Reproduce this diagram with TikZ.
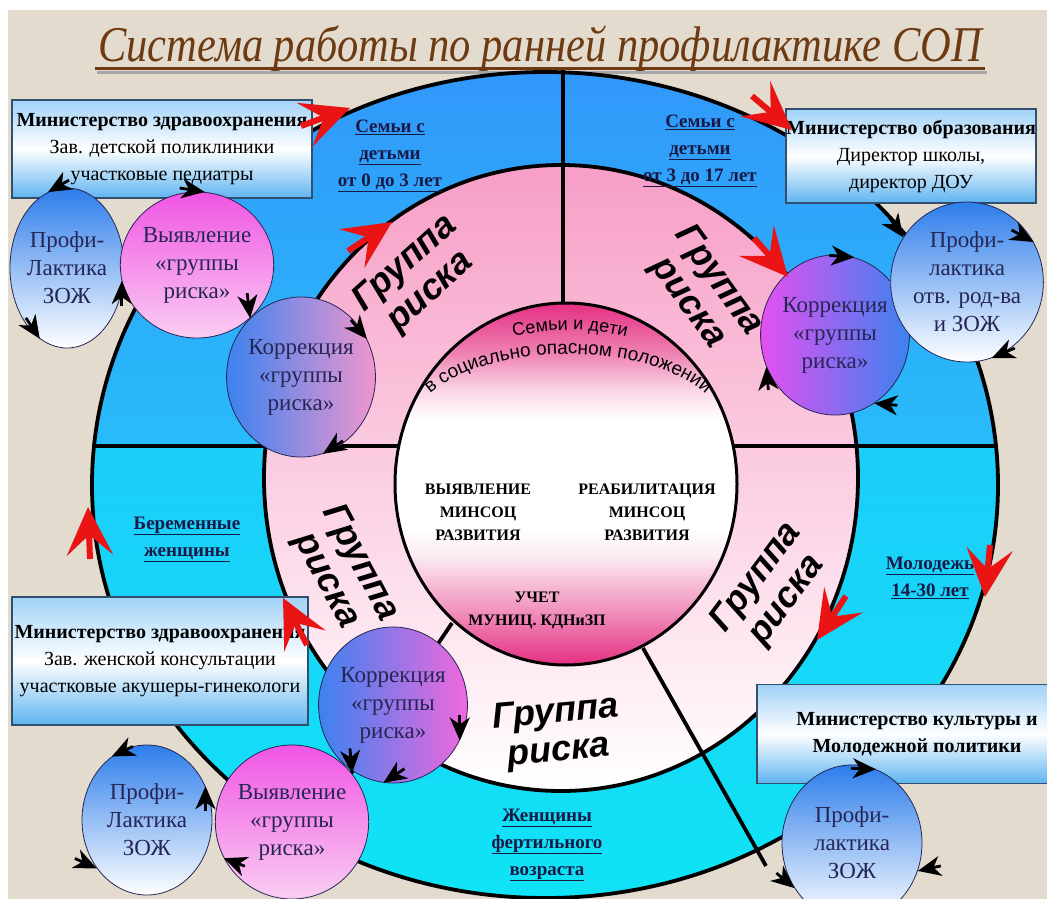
\documentclass[tikz,border=0pt]{standalone}
\usepackage{fontspec}
\setmainfont{Liberation Serif}
\setsansfont{Liberation Sans}
\usetikzlibrary{shapes.geometric,arrows.meta,decorations.text}
\definecolor{paper}{RGB}{226,219,206}
\definecolor{titlebrown}{RGB}{110,58,18}
\definecolor{ringblue}{RGB}{50,150,250}
\definecolor{ringbluelow}{RGB}{40,188,250}
\definecolor{ringcyan}{RGB}{28,205,250}
\definecolor{ringcyanlow}{RGB}{15,228,245}
\definecolor{ringpink}{RGB}{247,158,198}
\definecolor{ringpale}{RGB}{251,214,229}
\definecolor{innerrose}{RGB}{228,48,130}
\definecolor{profiblue}{RGB}{45,125,235}
\definecolor{vyavmag}{RGB}{240,85,228}
\definecolor{vyavpale}{RGB}{250,205,242}
\definecolor{korrblue}{RGB}{60,130,240}
\definecolor{korrpink}{RGB}{240,150,205}
\definecolor{korrmag}{RGB}{228,80,240}
\definecolor{boxblue}{RGB}{95,180,240}
\definecolor{boxsky}{RGB}{160,210,248}
\definecolor{boxedge}{RGB}{50,80,110}
\definecolor{labelnavy}{RGB}{25,25,70}
\definecolor{ovalink}{RGB}{38,38,85}
\definecolor{arrowred}{RGB}{235,20,20}
\pgfdeclareverticalshading{innershade}{100bp}{color(0bp)=(innerrose); color(25bp)=(innerrose); color(33bp)=(innerrose!50!white); color(40bp)=(innerrose!10!white); color(44bp)=(white); color(59bp)=(white); color(63bp)=(innerrose!20!white); color(68bp)=(innerrose!60!white); color(75bp)=(innerrose); color(100bp)=(innerrose)}
\tikzstyle{oval}=[ellipse, draw=ovalink, line width=0.8pt, inner sep=0pt, align=center, text=ovalink, font=\fontsize{23}{28}\selectfont]
\tikzstyle{profi}=[oval, top color=profiblue, bottom color=white]
\tikzstyle{vyav}=[oval, top color=vyavmag, bottom color=vyavpale]
\tikzstyle{korr}=[oval, left color=korrblue, right color=korrpink]
\tikzstyle{ministry}=[rectangle, draw=boxedge, line width=1.2pt, top color=boxsky, bottom color=boxblue, middle color=white, inner sep=0pt, align=center, font=\fontsize{20}{27}\selectfont]
\tikzstyle{riskgroup}=[align=center, font=\sffamily\bfseries\itshape\fontsize{36}{38}\selectfont]
\tikzstyle{agelabel}=[align=center, text=labelnavy, font=\bfseries\fontsize{19}{27}\selectfont]
\tikzstyle{centerlabel}=[align=center, font=\bfseries\fontsize{16}{23}\selectfont]
\tikzstyle{ringline}=[line width=3.8pt]
\tikzstyle{redarrow}=[arrowred, line width=6pt, -{Stealth[length=48pt,width=46pt,inset=20pt]}]
\tikzstyle{flowtip}=[line width=2.8pt, -{Stealth[length=23pt,width=20pt,inset=7pt]}]
\begin{document}
\begin{tikzpicture}[x=1pt, y=-1pt]
            \useasboundingbox (0,0) rectangle (1047,899);
            \fill[white] (0,0) rectangle (1047,899);
            \fill[paper] (8,10) rectangle (1047,899);

            \node[anchor=base, xscale=0.85, text=titlebrown, font=\itshape\fontsize{50}{52}\selectfont] (title) at (540,62)
                {Система работы по ранней профилактике СОП};
            \draw[black!35, line width=3pt] (97,73) -- (987,73);
            \draw[titlebrown, line width=3pt] (95,69) -- (985,69);

            \begin{scope}
                \clip (545,485) ellipse [x radius=453, y radius=413];
                \shade[top color=ringblue, bottom color=ringbluelow] (80,60) rectangle (1010,446);
                \shade[top color=ringcyan, bottom color=ringcyanlow] (80,446) rectangle (1010,910);
            \end{scope}
            \shade[top color=ringpink, middle color=ringpale, bottom color=white] (561,478) ellipse [x radius=297, y radius=313];
            \shade[shading=innershade] (566,484) ellipse [x radius=171, y radius=181];

            \draw[ringline] (563,70) -- (563,304);
            \draw[ringline] (93,446) -- (399,446);
            \draw[ringline] (733,446) -- (997,446);
            \draw[ringline] (643,648) -- (766,866);
            \draw[ringline] (452,623) -- (350,775);
            \draw[ringline] (545,485) ellipse [x radius=453, y radius=413];
            \draw[ringline] (561,478) ellipse [x radius=297, y radius=313];
            \draw[line width=3pt] (566,484) ellipse [x radius=171, y radius=181];

            \node[agelabel] (famsmall) at (390,156) {\underline{Семьи с}\\\underline{детьми}\\\underline{от 0 до 3 лет}};
            \node[agelabel] (famschool) at (700,151) {\underline{Семьи с}\\\underline{детьми}\\\underline{от 3 до 17 лет}};
            \node[agelabel] (pregnant) at (187,539) {\underline{Беременные}\\\underline{женщины}};
            \node[agelabel] (youth) at (930,578) {\underline{Молодежь}\\\underline{14-30 лет}};
            \node[agelabel] (fertile) at (547,845) {\underline{Женщины}\\\underline{фертильного}\\\underline{возраста}};

            \node[riskgroup, rotate=42] (riskNW) at (418,278) {Группа\\риска};
            \node[riskgroup, rotate=-54] (riskNE) at (703,292) {Группа\\риска};
            \node[riskgroup, rotate=-62] (riskW) at (343,572) {Группа\\риска};
            \node[riskgroup, rotate=53] (riskE) at (772,589) {Группа\\риска};
            \node[riskgroup, rotate=5] (riskS) at (557,733) {Группа\\риска};

            \path[decorate, decoration={text along path, text align=center,
                text={|\sffamily\fontsize{18}{18}\selectfont|Семьи и дети}}]
                (455,360.8) arc [start angle=240, end angle=300, radius=230];
            \path[decorate, decoration={text along path, text align=center,
                text={|\sffamily\fontsize{19}{19}\selectfont|в социально опасном положении}}]
                (410,432) arc [start angle=180, end angle=360, x radius=158, y radius=78];

            \node[centerlabel] (detect) at (478,512) {ВЫЯВЛЕНИЕ\\МИНСОЦ\\РАЗВИТИЯ};
            \node[centerlabel] (rehab) at (647,512) {РЕАБИЛИТАЦИЯ\\МИНСОЦ\\РАЗВИТИЯ};
            \node[centerlabel] (record) at (537,610) {УЧЕТ\\МУНИЦ. КДНиЗП};

            \node[ministry, minimum width=300pt, minimum height=98pt] (healthkids) at (162,149)
                {\textbf{Министерство здравоохранения}\\Зав. детской поликлиники\\участковые педиатры};
            \node[ministry, minimum width=250pt, minimum height=94pt] (education) at (911,156)
                {\textbf{Министерство образования}\\Директор школы,\\директор ДОУ};
            \node[ministry, minimum width=296pt, minimum height=128pt] (healthwomen) at (160,661)
                {\textbf{Министерство здравоохранения}\\Зав. женской консультации\\участковые акушеры-гинекологи};
            \node[ministry, minimum width=320pt, minimum height=99pt] (culture) at (917,734)
                {\textbf{Министерство культуры и}\\\textbf{Молодежной политики}};

            \node[profi, minimum width=114pt, minimum height=160pt] (profiNW) at (67,268) {Профи-\\Лактика\\ЗОЖ};
            \node[vyav, minimum width=134pt, minimum height=146pt] (vyavNW) at (197,265) {Выявление\\«группы\\риска»};
            \node[korr, minimum width=138pt, minimum height=160pt] (korrNW) at (301,377) {Коррекция\\«группы\\риска»};
            \node[korr, left color=korrmag, right color=korrblue, minimum width=120pt, minimum height=160pt] (korrNE) at (835,335)
                {Коррекция\\«группы\\риска»};
            \node[profi, minimum width=140pt, minimum height=160pt] (profiNE) at (967,282) {Профи-\\лактика\\отв. род-ва\\и ЗОЖ};
            \node[korr, right color=vyavmag!70!korrpink, minimum width=130pt, minimum height=156pt] (korrSW) at (393,705)
                {Коррекция\\«группы\\риска»};
            \node[vyav, minimum width=140pt, minimum height=154pt] (vyavSW) at (292,822) {Выявление\\«группы\\риска»};
            \node[profi, minimum width=130pt, minimum height=150pt] (profiSW) at (147,820) {Профи-\\Лактика\\ЗОЖ};
            \node[profi, minimum width=140pt, minimum height=156pt] (profiSE) at (852,843) {Профи-\\лактика\\ЗОЖ};

            \draw[flowtip] ([shift={(21,-12)}]profiNW.104) -- (profiNW.104);
            \draw[flowtip] ([shift={(-25,-4)}]vyavNW.84) -- (vyavNW.84);
            \draw[flowtip] ([shift={(0,25)}]vyavNW.192) -- (vyavNW.192);
            \draw[flowtip] ([shift={(-14,-21)}]profiNW.249) -- (profiNW.249);
            \draw[flowtip] ([shift={(-3,-25)}]vyavNW.315) -- (vyavNW.315);
            \draw[flowtip] ([shift={(-16,-19)}]korrNW.30) -- (korrNW.30);
            \draw[flowtip] ([shift={(20,-13)}]korrNW.286) -- (korrNW.286);

            \draw[flowtip] ([shift={(-25,-2)}]korrNE.76) -- (korrNE.76);
            \draw[flowtip] ([shift={(-14,-20)}]profiNE.145) -- (profiNE.145);
            \draw[flowtip] ([shift={(-22,-12)}]profiNE.31) -- (profiNE.31);
            \draw[flowtip] ([shift={(23,-10)}]profiNE.288) -- (profiNE.288);
            \draw[flowtip] ([shift={(2,23)}]korrNE.205) -- (korrNE.205);
            \draw[flowtip] ([shift={(23,2)}]korrNE.300) -- (korrNE.300);

            \draw[flowtip] ([shift={(21,-10)}]profiSW.119) -- (profiSW.119);
            \draw[flowtip] ([shift={(0,25)}]profiSW.30) -- (profiSW.30);
            \draw[flowtip] ([shift={(-22,-10)}]profiSW.224) -- (profiSW.224);
            \draw[flowtip] ([shift={(21,8)}]vyavSW.208) -- (vyavSW.208);
            \draw[flowtip] ([shift={(-2,-25)}]vyavSW.39) -- (vyavSW.39);
            \draw[flowtip] ([shift={(21,-14)}]korrSW.263) -- (korrSW.263);
            \draw[flowtip] ([shift={(0,-25)}]korrSW.332) -- (korrSW.332);

            \draw[flowtip] ([shift={(-25,-1)}]profiSE.72) -- (profiSE.72);
            \draw[flowtip] ([shift={(23,-5)}]profiSE.337) -- (profiSE.337);
            \draw[flowtip] ([shift={(-18,-15)}]profiSE.218) -- (profiSE.218);

            \draw[redarrow] (301,126) -- (350,108);
            \draw[redarrow] (348,251) -- (392,222);
            \draw[redarrow] (752,96) -- (792,130);
            \draw[redarrow] (754,238) -- (788,277);
            \draw[redarrow] (90,559) -- (88,507);
            \draw[redarrow] (307,645) -- (283,598);
            \draw[redarrow] (990,545) -- (985,597);
            \draw[redarrow] (846,596) -- (817,640);
\end{tikzpicture}
\end{document}
